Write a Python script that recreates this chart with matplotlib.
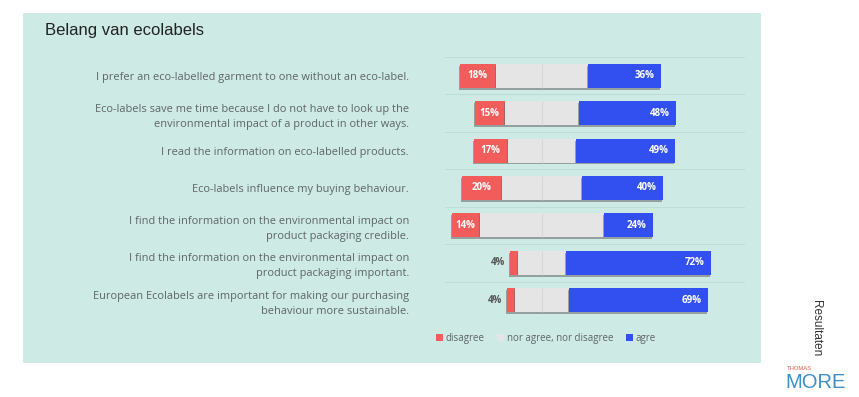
import matplotlib
matplotlib.use("Agg")
import matplotlib.pyplot as plt
from matplotlib.patches import Rectangle, Patch
import matplotlib.patheffects as pe
import numpy as np

# ---- data ----
categories = [
    "I prefer an eco-labelled garment to one without an eco-label.",
    "Eco-labels save me time because I do not have to look up the\nenvironmental impact of a product in other ways.",
    "I read the information on eco-labelled products.",
    "Eco-labels influence my buying behaviour.",
    "I find the information on the environmental impact on\nproduct packaging credible.",
    "I find the information on the environmental impact on\nproduct packaging important.",
    "European Ecolabels are important for making our purchasing\nbehaviour more sustainable.",
]
disagree = [18, 15, 17, 20, 14, 4, 4]
agree = [36, 48, 49, 40, 24, 72, 69]
neutral = [100 - d - a for d, a in zip(disagree, agree)]
series_names = ["disagree", "nor agree, nor disagree", "agre"]
title = "Belang van ecolabels"

# ---- styling ----
W, H = 859, 397
BG = "#cdeae5"
RED = "#f25c5a"
GRAY = "#e5e5e5"
BLUE = "#3150ef"
TXT = "#5f6468"

fig = plt.figure(figsize=(W / 100, H / 100), dpi=100)
fig.patch.set_facecolor("white")

# panel
fig.patches.append(Rectangle((23 / W, 1 - 363 / H), (761 - 23) / W, (363 - 13) / H,
                             transform=fig.transFigure, facecolor=BG, edgecolor="none", zorder=-5))

fig.text(45 / W, 1 - 31 / H, title, fontsize=12, family="Liberation Sans",
         color="#222222", va="center", ha="left")

ax = fig.add_axes([445 / W, 1 - 319 / H, 300 / W, (319 - 57) / H])
ax.set_zorder(2)
ax.set_facecolor("none")
ax.set_xlim((445 - 542) / 2.01, (745 - 542) / 2.01)
n = len(categories)
ypos = np.arange(n)
ax.set_ylim(n - 0.5, -0.5)

# gridlines
for k in range(n + 1):
    ax.axhline(k - 0.5, color="#bfdcd7", lw=0.8, zorder=0.5)

shadow = [pe.SimplePatchShadow(offset=(-0.6, -1.4), shadow_rgbFace="#6f6f6f", alpha=0.6), pe.Normal()]

d = np.array(disagree, float)
nu = np.array(neutral, float)
a = np.array(agree, float)
left_d = -nu / 2 - d
left_n = -nu / 2
left_a = nu / 2

bh = 0.64
bd = ax.barh(ypos, d, left=left_d, height=bh, color=RED, zorder=2, label=series_names[0])
bn = ax.barh(ypos, nu, left=left_n, height=bh, color=GRAY, zorder=2, label=series_names[1])
ba = ax.barh(ypos, a, left=left_a, height=bh, color=BLUE, zorder=2, label=series_names[2])
for cont in (bd, bn, ba):
    for p in cont:
        p.set_path_effects(shadow)

# faint zero line visible only across the bars
ax.vlines(np.zeros(n), ypos - bh / 2, ypos + bh / 2, color="#d6d6d6", lw=0.7, zorder=3)

lblkw = dict(fontsize=7, fontweight="bold", family="Open Sans", va="center")
for i in range(n):
    if d[i] >= 10:
        ax.text(left_d[i] + d[i] / 2, ypos[i], f"{disagree[i]}%", color="white", ha="center", zorder=4, **lblkw)
    else:
        ax.text(left_d[i] - 2.2, ypos[i], f"{disagree[i]}%", color="#555555", ha="right", zorder=4, **lblkw)
    ax.text(left_a[i] + a[i] - 3, ypos[i], f"{agree[i]}%", color="white", ha="right", zorder=4, **lblkw)

ax.set_yticks(ypos)
ax.set_yticklabels(categories, fontsize=7.9, family="Open Sans", color=TXT, linespacing=1.5)
ax.tick_params(axis="y", length=0, pad=26)
ax.set_xticks([])
for s in ax.spines.values():
    s.set_visible(False)

handles = [Patch(facecolor=RED, edgecolor="none"), Patch(facecolor=GRAY, edgecolor="none"),
           Patch(facecolor=BLUE, edgecolor="none")]
fig.legend(handles, series_names, loc="center", bbox_to_anchor=(546 / W, 1 - 338 / H), ncol=3,
           frameon=False, handlelength=0.7, handleheight=0.7, handletextpad=0.3, columnspacing=1.3,
           prop=dict(family="Open Sans", size=7), labelcolor=TXT)

# side decoration
fig.text(816 / W, 1 - 328 / H, "Resultaten", rotation=270, fontsize=8.5, family="Liberation Sans",
         color="#333333", ha="center", va="center")
fig.text(787 / W, 1 - 369 / H, "THOMAS", fontsize=4.2, family="Liberation Sans", color="#e0604e",
         ha="left", va="center")
fig.text(785 / W, 1 - 383 / H, "MORE", fontsize=14.5, family="Liberation Sans", color="#3f8fc6",
         ha="left", va="center")

fig.savefig("out.png", dpi=100, facecolor="white")
